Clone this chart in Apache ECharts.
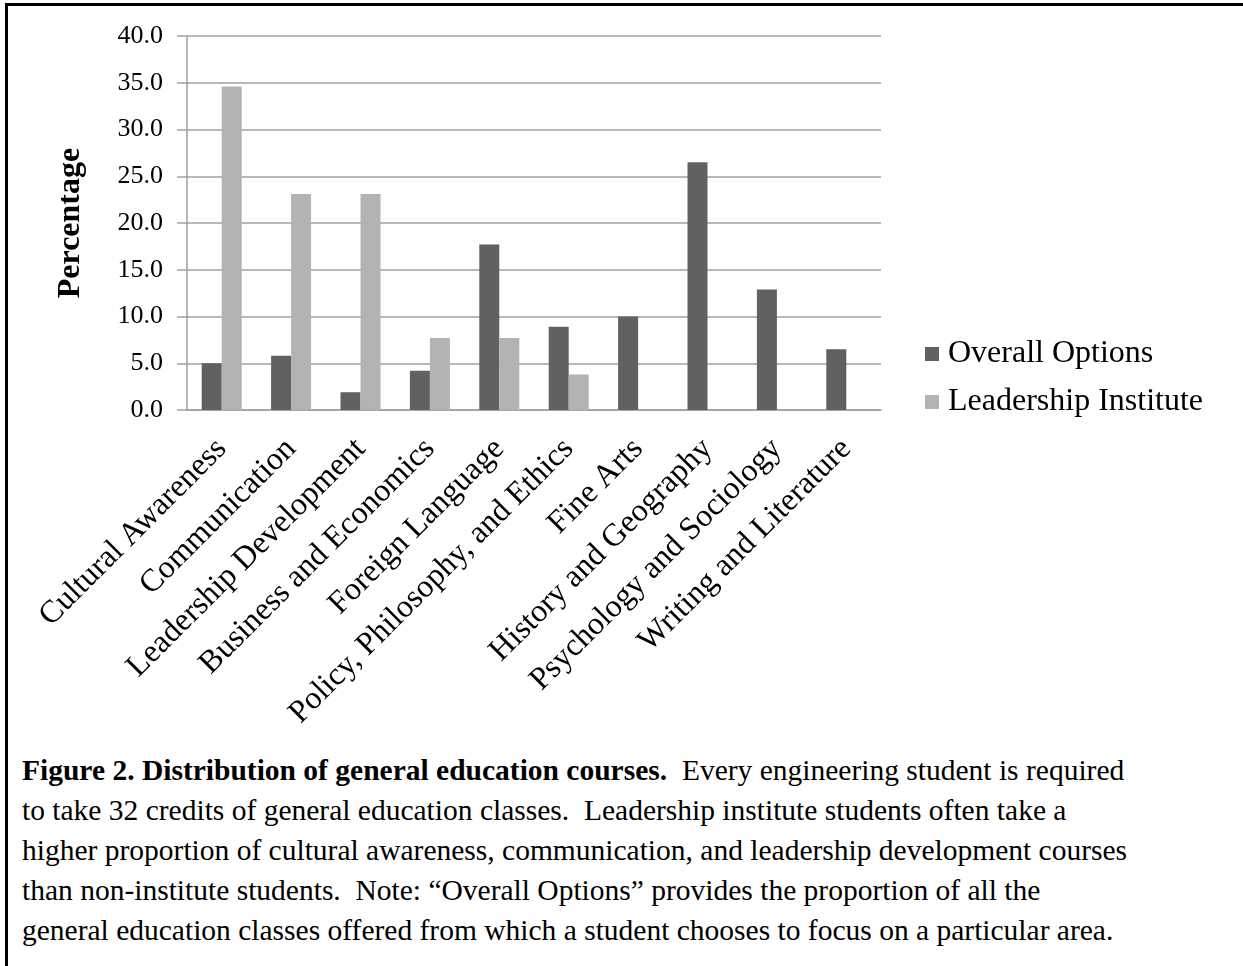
<!DOCTYPE html>
<html>
<head>
<meta charset="utf-8">
<script src="https://cdn.jsdelivr.net/npm/echarts@6/dist/echarts.min.js"></script>
<style>
  html, body { margin: 0; padding: 0; background: #fff; }
  #frame {
    position: absolute; left: 5px; top: 3px; width: 1238px; height: 963px;
    border-left: 3px solid #000; border-top: 3px solid #000; box-sizing: border-box;
  }
  #chart { position: absolute; left: 0; top: 0; width: 1243px; height: 740px; }
  #caption {
    position: absolute; left: 22px; top: 750px; width: 1215px;
    font-family: "Liberation Serif", "Times New Roman", serif;
    font-size: 29.5px; line-height: 40px; color: #000; white-space: nowrap;
  }
</style>
</head>
<body>
<div id="frame"></div>
<div id="chart"></div>
<div id="caption">
  <b>Figure 2. Distribution of general education courses.</b>&nbsp; Every engineering student is required<br>
  to take 32 credits of general education classes.&nbsp; Leadership institute students often take a<br>
  higher proportion of cultural awareness, communication, and leadership development courses<br>
  than non-institute students.&nbsp; Note: “Overall Options” provides the proportion of all the<br>
  general education classes offered from which a student chooses to focus on a particular area.
</div>
<script>
var categories = ['Cultural Awareness', 'Communication', 'Leadership Development', 'Business and Economics',
    'Foreign Language', 'Policy, Philosophy, and Ethics', 'Fine Arts', 'History and Geography',
    'Psychology and Sociology', 'Writing and Literature'];
var overallOptions = [5.0, 5.8, 1.9, 4.2, 17.7, 8.9, 10.0, 26.5, 12.9, 6.5];
var leadershipInstitute = [34.6, 23.1, 23.1, 7.7, 7.7, 3.8, 0, 0, 0, 0];

var serif = '"Liberation Serif", "Times New Roman", serif';

var myChart = echarts.init(document.getElementById('chart'));
var option = {
    animation: false,
    textStyle: { fontFamily: serif, color: '#000' },
    grid: { left: 187, top: 36, width: 694, height: 374 },
    legend: {
        orient: 'vertical',
        left: 920,
        top: 333,
        itemWidth: 14,
        itemHeight: 14,
        itemGap: 16,
        icon: 'rect',
        textStyle: { fontFamily: serif, fontSize: 32, color: '#000', padding: [0, 0, 0, 4] },
        data: ['Overall Options', 'Leadership Institute']
    },
    xAxis: {
        type: 'category',
        data: categories,
        axisLine: { lineStyle: { color: '#a0a0a0', width: 1.5 } },
        axisTick: { show: false },
        axisLabel: {
            interval: 0,
            rotate: 45,
            margin: 34,
            fontFamily: serif,
            fontSize: 32,
            color: '#000'
        }
    },
    yAxis: {
        type: 'value',
        min: 0,
        max: 40,
        interval: 5,
        name: 'Percentage',
        nameLocation: 'middle',
        nameGap: 100,
        nameTextStyle: { fontFamily: serif, fontSize: 32, fontWeight: 'bold', color: '#000' },
        axisLine: { show: true, lineStyle: { color: '#a0a0a0', width: 1.5 } },
        axisTick: { show: true, length: 10, lineStyle: { color: '#a0a0a0', width: 1.5 } },
        splitLine: { lineStyle: { color: '#a0a0a0', width: 1.5 } },
        axisLabel: {
            margin: 24,
            fontFamily: serif,
            fontSize: 26,
            color: '#000',
            formatter: function (v) { return v.toFixed(1); }
        }
    },
    series: [
        {
            name: 'Overall Options',
            type: 'bar',
            barWidth: 20,
            barGap: '0%',
            itemStyle: { color: '#616161' },
            data: overallOptions
        },
        {
            name: 'Leadership Institute',
            type: 'bar',
            barWidth: 20,
            barGap: '0%',
            itemStyle: { color: '#b3b3b3' },
            data: leadershipInstitute
        }
    ]
};
myChart.setOption(option);
</script>
</body>
</html>
